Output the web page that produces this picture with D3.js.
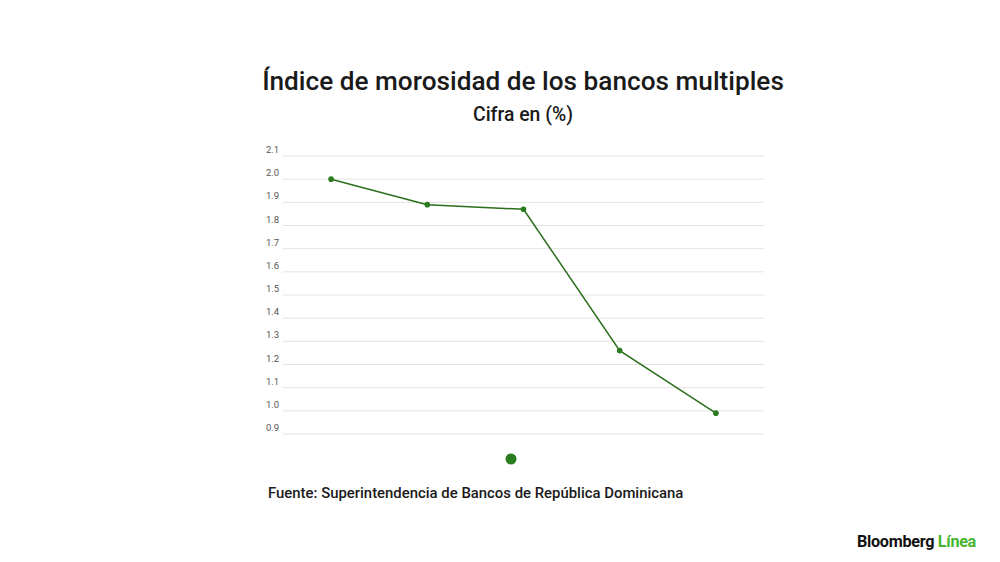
<!DOCTYPE html>
<html>
<head>
<meta charset="utf-8">
<script src="https://cdn.jsdelivr.net/npm/d3@7"></script>
<style>
  body { margin: 0; background: #fff; }
  svg { display: block; font-family: Roboto, "Noto Sans", sans-serif; }
</style>
</head>
<body>
<div id="chart"></div>
<script>
// Data (x labels are not shown in the original)
const categories = ['P1', 'P2', 'P3', 'P4', 'P5'];
const values = [2.0, 1.89, 1.87, 1.26, 0.99];
const yTicks = [0.9, 1.0, 1.1, 1.2, 1.3, 1.4, 1.5, 1.6, 1.7, 1.8, 1.9, 2.0, 2.1];

const W = 1000, H = 562;
const lineColor = '#2b6e1c';
const dotColor = '#2a7d1e';

const svg = d3.select('#chart').append('svg')
  .attr('width', W)
  .attr('height', H);

// Titles
svg.append('text')
  .attr('x', 523).attr('y', 90)
  .attr('text-anchor', 'middle')
  .attr('font-size', '26.2px')
  .attr('font-weight', 500)
  .attr('fill', '#1a1a1a')
  .text('Índice de morosidad de los bancos multiples');

svg.append('text')
  .attr('x', 523).attr('y', 121)
  .attr('text-anchor', 'middle')
  .attr('font-size', '19.4px')
  .attr('font-weight', 500)
  .attr('fill', '#1a1a1a')
  .text('Cifra en (%)');

// Scales
const x = d3.scaleBand().domain(categories).range([283, 764]).padding(0);
const y = d3.scaleLinear().domain([0.9, 2.1]).range([434, 156]);

// Grid + y labels
const grid = svg.append('g');
grid.selectAll('line')
  .data(yTicks)
  .join('line')
  .attr('x1', 283).attr('x2', 764)
  .attr('y1', d => y(d)).attr('y2', d => y(d))
  .attr('stroke', '#e3e3e3')
  .attr('stroke-width', 1);

grid.selectAll('text')
  .data(yTicks)
  .join('text')
  .attr('x', 266)
  .attr('y', d => y(d) - 3)
  .attr('font-size', '9.5px')
  .attr('fill', '#555')
  .text(d => d3.format('.1f')(d));

// Line
const cx = (d, i) => x(categories[i]) + x.bandwidth() / 2;
const line = d3.line()
  .x((d, i) => cx(d, i))
  .y(d => y(d));

svg.append('path')
  .datum(values)
  .attr('d', line)
  .attr('fill', 'none')
  .attr('stroke', lineColor)
  .attr('stroke-width', 1.5);

svg.append('g')
  .selectAll('circle')
  .data(values)
  .join('circle')
  .attr('cx', (d, i) => cx(d, i))
  .attr('cy', d => y(d))
  .attr('r', 2.8)
  .attr('fill', dotColor);

// Legend (series marker, no label)
svg.append('circle')
  .attr('cx', 511).attr('cy', 459)
  .attr('r', 5.5)
  .attr('fill', dotColor);

// Source
svg.append('text')
  .attr('x', 268).attr('y', 498)
  .attr('font-size', '14.9px')
  .attr('font-weight', 500)
  .attr('fill', '#1a1a1a')
  .text('Fuente: Superintendencia de Bancos de República Dominicana');

// Logo
const logo = svg.append('text')
  .attr('x', 857).attr('y', 547)
  .attr('font-size', '16.2px')
  .attr('font-weight', 700)
  .attr('letter-spacing', '-0.3px');
logo.append('tspan').attr('fill', '#111').text('Bloomberg ');
logo.append('tspan').attr('fill', '#46b52d').text('Línea');
</script>
</body>
</html>
